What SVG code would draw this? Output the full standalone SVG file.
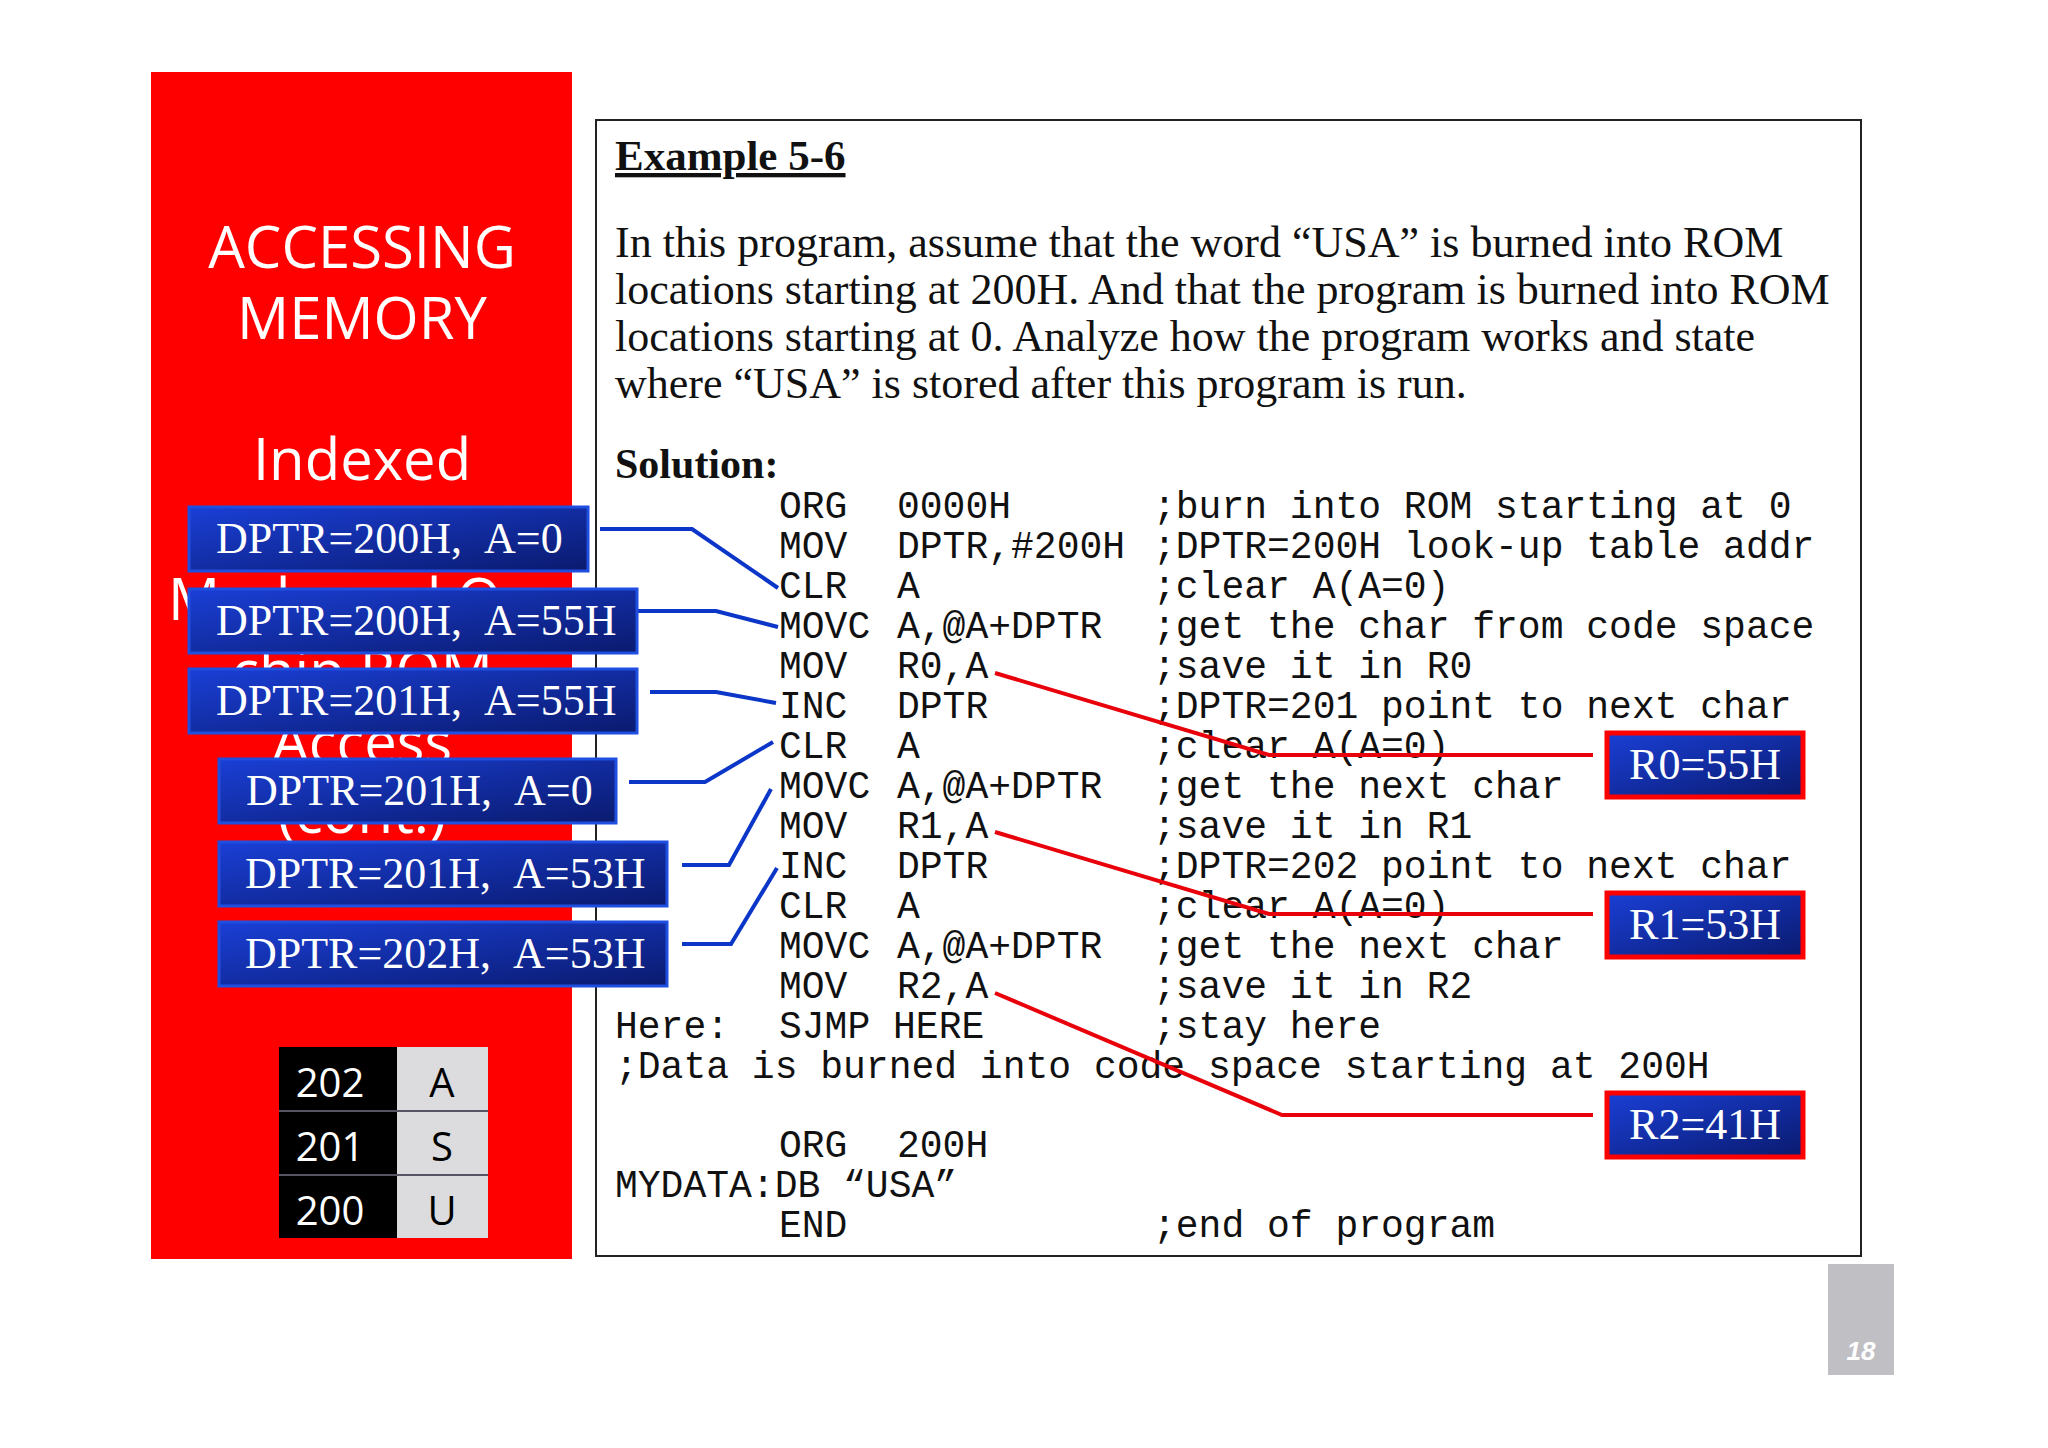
<svg xmlns="http://www.w3.org/2000/svg" width="2048" height="1448" viewBox="0 0 2048 1448">
<defs>
<linearGradient id="bg" x1="0" y1="0" x2="1" y2="1">
<stop offset="0" stop-color="#1a3fd6"/><stop offset="1" stop-color="#0a1a6e"/>
</linearGradient>
<style>
.lbl{fill:url(#bg);stroke:#1f4fe0;stroke-width:3}
.lt{font-family:"Liberation Serif",serif;font-size:44px;fill:#fff}
.code{font-family:"Liberation Mono",monospace;font-size:38px;fill:#111}
.ser{font-family:"Liberation Serif",serif;fill:#111}
.side{font-family:"Open Sans","Liberation Sans",sans-serif;font-size:58px;fill:#fff;text-anchor:middle}
.bl{fill:none;stroke:#0b36c8;stroke-width:4}
.rd{fill:none;stroke:#e8000b;stroke-width:4}
.rbox{fill:url(#bg);stroke:#ff0000;stroke-width:5}
.tb{font-family:"Open Sans","Liberation Sans",sans-serif;font-size:40px;text-anchor:middle}
</style>
</defs>
<rect width="2048" height="1448" fill="#fff"/>
<g id="sidebar">
<rect x="151" y="72" width="421" height="1187" fill="#ff0000"/>
<text class="side" x="362" y="268">ACCESSING</text>
<text class="side" x="362" y="339">MEMORY</text>
<text class="side" x="362" y="480">Indexed</text>
<text class="side" x="362" y="620">Mode and On-</text>
<text class="side" x="362" y="692">chip ROM</text>
<text class="side" x="362" y="763">Access</text>
<text class="side" x="362" y="833">(cont.)</text>
</g>
<g id="mainbox">
<rect x="596" y="120" width="1265" height="1136" fill="#fff" stroke="#222" stroke-width="2"/>
<text class="ser" x="615" y="170" font-size="43" font-weight="bold" text-decoration="underline">Example 5-6</text>
<g class="ser" font-size="44">
<text x="615" y="257">In this program, assume that the word “USA” is burned into ROM</text>
<text x="615" y="304">locations starting at 200H. And that the program is burned into ROM</text>
<text x="615" y="351">locations starting at 0. Analyze how the program works and state</text>
<text x="615" y="398">where “USA” is stored after this program is run.</text>
</g>
<text class="ser" x="615" y="478" font-size="42" font-weight="bold">Solution:</text>
<g class="code">
<text x="779" y="518">ORG</text><text x="897" y="518">0000H</text><text x="1153" y="518">;burn into ROM starting at 0</text>
<text x="779" y="558">MOV</text><text x="897" y="558">DPTR,#200H</text><text x="1153" y="558">;DPTR=200H look-up table addr</text>
<text x="779" y="598">CLR</text><text x="897" y="598">A</text><text x="1153" y="598">;clear A(A=0)</text>
<text x="779" y="638">MOVC</text><text x="897" y="638">A,@A+DPTR</text><text x="1153" y="638">;get the char from code space</text>
<text x="779" y="678">MOV</text><text x="897" y="678">R0,A</text><text x="1153" y="678">;save it in R0</text>
<text x="779" y="718">INC</text><text x="897" y="718">DPTR</text><text x="1153" y="718">;DPTR=201 point to next char</text>
<text x="779" y="758">CLR</text><text x="897" y="758">A</text><text x="1153" y="758">;clear A(A=0)</text>
<text x="779" y="798">MOVC</text><text x="897" y="798">A,@A+DPTR</text><text x="1153" y="798">;get the next char</text>
<text x="779" y="838">MOV</text><text x="897" y="838">R1,A</text><text x="1153" y="838">;save it in R1</text>
<text x="779" y="878">INC</text><text x="897" y="878">DPTR</text><text x="1153" y="878">;DPTR=202 point to next char</text>
<text x="779" y="918">CLR</text><text x="897" y="918">A</text><text x="1153" y="918">;clear A(A=0)</text>
<text x="779" y="958">MOVC</text><text x="897" y="958">A,@A+DPTR</text><text x="1153" y="958">;get the next char</text>
<text x="779" y="998">MOV</text><text x="897" y="998">R2,A</text><text x="1153" y="998">;save it in R2</text>
<text x="615" y="1038">Here:</text><text x="779" y="1038">SJMP HERE</text><text x="1153" y="1038">;stay here</text>
<text x="615" y="1078">;Data is burned into code space starting at 200H</text>
<text x="779" y="1157">ORG</text><text x="897" y="1157">200H</text>
<text x="615" y="1197">MYDATA:DB “USA”</text>
<text x="779" y="1237">END</text><text x="1153" y="1237">;end of program</text>
</g>
</g>
<g id="connectors">
<polyline class="bl" points="600,529 692,529 778,588"/>
<polyline class="bl" points="615,611 716,611 778,627"/>
<polyline class="bl" points="650,692 716,692 776,703"/>
<polyline class="bl" points="629,782 705,782 773,742"/>
<polyline class="bl" points="682,865 729,865 771,789"/>
<polyline class="bl" points="682,944 731,944 777,868"/>
<polyline class="rd" points="995,673 1269,755 1593,755"/>
<polyline class="rd" points="995,832 1269,914 1593,914"/>
<polyline class="rd" points="995,993 1282,1115 1593,1115"/>
</g>
<g id="label1"><rect class="lbl" x="189" y="507" width="399" height="64"/><text class="lt" x="216" y="553">DPTR=200H,<tspan dx="22">A=0</tspan></text></g>
<g id="label2"><rect class="lbl" x="189" y="589" width="448" height="64"/><text class="lt" x="216" y="635">DPTR=200H,<tspan dx="22">A=55H</tspan></text></g>
<g id="label3"><rect class="lbl" x="189" y="669" width="448" height="64"/><text class="lt" x="216" y="715">DPTR=201H,<tspan dx="22">A=55H</tspan></text></g>
<g id="label4"><rect class="lbl" x="219" y="759" width="397" height="64"/><text class="lt" x="246" y="805">DPTR=201H,<tspan dx="22">A=0</tspan></text></g>
<g id="label5"><rect class="lbl" x="219" y="842" width="448" height="64"/><text class="lt" x="245" y="888">DPTR=201H,<tspan dx="22">A=53H</tspan></text></g>
<g id="label6"><rect class="lbl" x="219" y="922" width="448" height="64"/><text class="lt" x="245" y="968">DPTR=202H,<tspan dx="22">A=53H</tspan></text></g>
<g id="r0"><rect class="rbox" x="1607" y="733" width="196" height="64"/><text class="lt" x="1705" y="779" text-anchor="middle">R0=55H</text></g>
<g id="r1"><rect class="rbox" x="1607" y="893" width="196" height="64"/><text class="lt" x="1705" y="939" text-anchor="middle">R1=53H</text></g>
<g id="r2"><rect class="rbox" x="1607" y="1093" width="196" height="64"/><text class="lt" x="1705" y="1139" text-anchor="middle">R2=41H</text></g>
<g id="table">
<rect x="279" y="1047" width="118" height="191" fill="#000"/>
<rect x="397" y="1047" width="91" height="191" fill="#dcdcdf"/>
<line x1="279" y1="1111" x2="488" y2="1111" stroke="#556" stroke-width="2"/>
<line x1="279" y1="1175" x2="488" y2="1175" stroke="#556" stroke-width="2"/>
<text class="tb" x="330" y="1097" fill="#fff">202</text>
<text class="tb" x="330" y="1161" fill="#fff">201</text>
<text class="tb" x="330" y="1225" fill="#fff">200</text>
<text class="tb" x="442" y="1097" fill="#000">A</text>
<text class="tb" x="442" y="1161" fill="#000">S</text>
<text class="tb" x="442" y="1225" fill="#000">U</text>
</g>
<g id="page">
<rect x="1828" y="1264" width="66" height="111" fill="#c0bfc4"/>
<text x="1861" y="1360" font-family="Liberation Sans,sans-serif" font-size="26" font-weight="bold" font-style="italic" fill="#fff" text-anchor="middle">18</text>
</g>
</svg>
